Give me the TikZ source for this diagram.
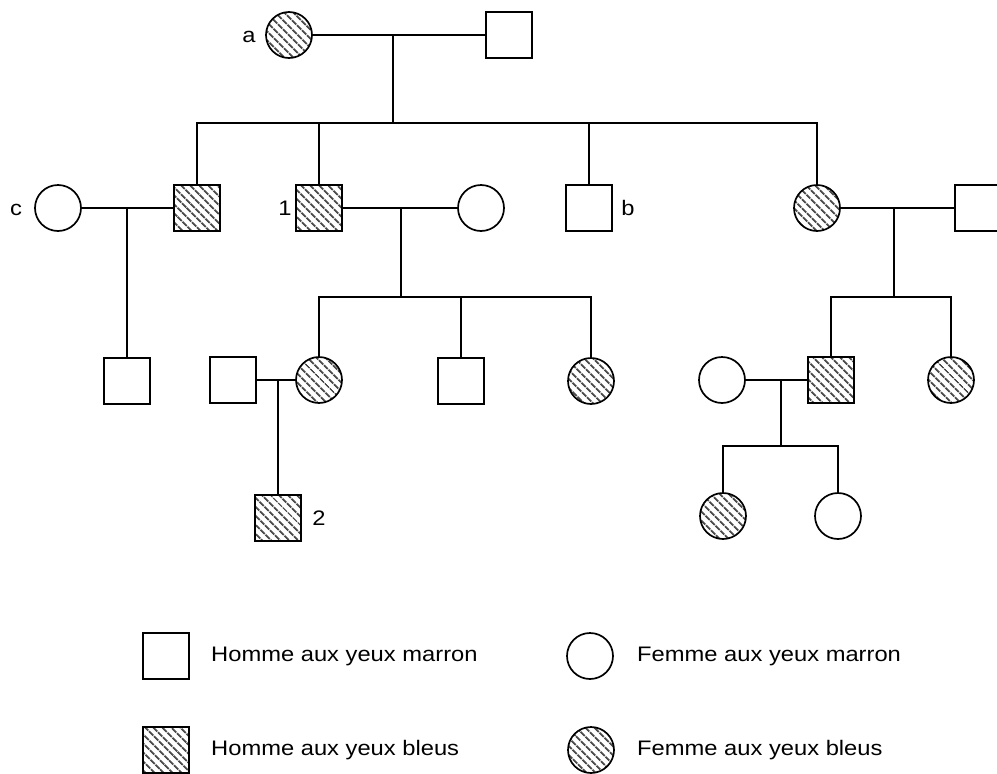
\documentclass[tikz,border=0pt]{standalone}
\usepackage{fontspec}
\setmainfont{Liberation Sans}[FakeStretch=1.13]
\usetikzlibrary{patterns.meta}
\tikzset{
  ind/.style={draw, line width=1.7pt, minimum size=46pt, inner sep=0pt, fill=white},
  male/.style={ind, rectangle},
  female/.style={ind, circle},
  aff/.style={pattern={Lines[angle=-45,distance=6.5pt,line width=2.2pt]}, pattern color=black!70},
  link/.style={line width=1.7pt},
  lab/.style={font=\fontsize{21}{25}\selectfont, inner sep=0pt},
  legtext/.style={lab, anchor=west}
}
\begin{document}
\begin{tikzpicture}[x=1pt,y=-1pt]
\useasboundingbox (0,0) rectangle (997,774);
% generation I
\node[female,aff] (a) at (289,35) {};
\node[male] (A2) at (509,35) {};
\node[lab] (la) at (249,37) {a};
\coordinate (m1) at (393,35);
\coordinate (s1) at (393,123);
% generation II
\node[male,aff] (c1) at (197,208) {};
\node[male,aff] (c2) at (319,208) {};
\node[male] (c3) at (589,208) {};
\node[female,aff] (c4) at (817,208) {};
\node[female] (cw) at (58,208) {};
\node[female] (w2) at (481,208) {};
\node[male] (h4) at (978,208) {};
\node[lab] (lc) at (16,210) {c};
\node[lab] (l1) at (285,208) {1};
\node[lab] (lb) at (628,208) {b};
\coordinate (m2) at (127,208);
\coordinate (m3) at (401,208);
\coordinate (s3) at (401,297);
\coordinate (m4) at (894,208);
\coordinate (s4) at (894,297);
% generation III
\node[male] (g1) at (127,381) {};
\node[male] (sp2) at (233,380) {};
\node[female,aff] (g2) at (319,380) {};
\node[male] (g3) at (461,381) {};
\node[female,aff] (g4) at (591,381) {};
\node[female] (sp5) at (722,380) {};
\node[male,aff] (g5) at (831,380) {};
\node[female,aff] (g6) at (951,380) {};
\coordinate (m5) at (278,380);
\coordinate (m6) at (781,380);
\coordinate (s6) at (781,446);
% generation IV
\node[male,aff] (k1) at (278,518) {};
\node[lab] (l2) at (319,518) {2};
\node[female,aff] (k2) at (723,516) {};
\node[female] (k3) at (838,516) {};
% connectors
\begin{scope}[link]
\draw (a) -- (A2);
\draw (m1) -- (s1);
\draw (c1.north) |- (s1) -| (c4.north);
\draw (c2.north) -- (c2.north |- s1);
\draw (c3.north) -- (c3.north |- s1);
\draw (cw) -- (c1);
\draw (m2) -- (g1.north);
\draw (c2) -- (w2);
\draw (m3) -- (s3);
\draw (g2.north) |- (s3) -| (g4.north);
\draw (g3.north) -- (g3.north |- s3);
\draw (c4) -- (h4);
\draw (m4) -- (s4);
\draw (g5.north) |- (s4) -| (g6.north);
\draw (sp2) -- (g2);
\draw (m5) -- (k1.north);
\draw (sp5) -- (g5);
\draw (m6) -- (s6);
\draw (k2.north) |- (s6) -| (k3.north);
\end{scope}
% legend
\node[male] (L1) at (166,656) {};
\node[male,aff] (L2) at (166,750) {};
\node[female] (L3) at (590,656) {};
\node[female,aff] (L4) at (591,750) {};
\node[legtext] (T1) at (211,656) {Homme aux yeux marron};
\node[legtext] (T2) at (211,750) {Homme aux yeux bleus};
\node[legtext] (T3) at (637,656) {Femme aux yeux marron};
\node[legtext] (T4) at (637,750) {Femme aux yeux bleus};
\end{tikzpicture}
\end{document}
